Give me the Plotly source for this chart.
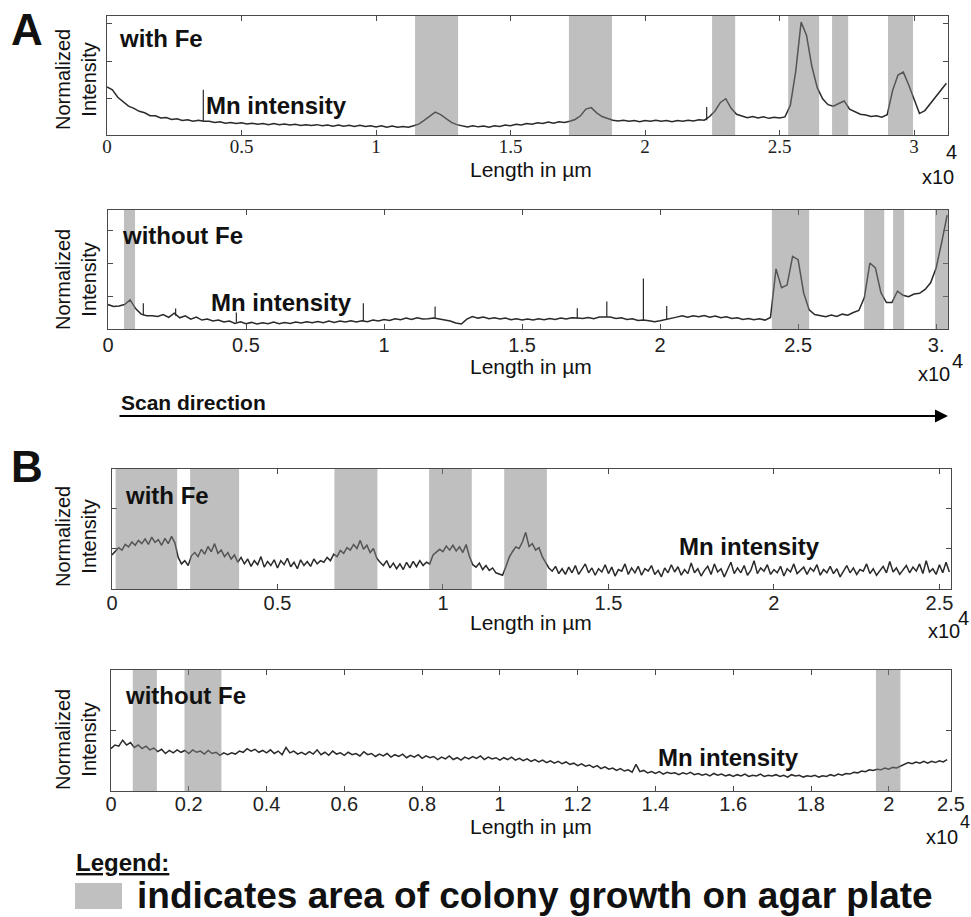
import numpy as np
import plotly.graph_objects as go

W, H = 971, 917

# ---------------- data ----------------
# Panel A, with Fe : Mn intensity sampled every 200 um
A_TOP_STEP = 200
A_TOP_MN = [
    1.30, 1.22, 1.02, 0.90, 0.78, 0.72, 0.64, 0.60, 0.52, 0.52,
    0.46, 0.47, 0.42, 0.44, 0.39, 0.41, 0.37, 0.40, 0.37, 0.37,
    0.34, 0.36, 0.32, 0.34, 0.31, 0.33, 0.30, 0.32, 0.29, 0.31,
    0.28, 0.31, 0.28, 0.30, 0.27, 0.29, 0.26, 0.28, 0.26, 0.28,
    0.25, 0.27, 0.24, 0.27, 0.24, 0.26, 0.23, 0.26, 0.23, 0.25,
    0.22, 0.25, 0.21, 0.24, 0.21, 0.23, 0.21, 0.25, 0.30, 0.40,
    0.50, 0.62, 0.55, 0.45, 0.34, 0.28, 0.25, 0.22, 0.25, 0.22,
    0.24, 0.21, 0.25, 0.23, 0.27, 0.25, 0.29, 0.27, 0.31, 0.29,
    0.33, 0.31, 0.35, 0.32, 0.36, 0.34, 0.37, 0.42, 0.52, 0.70,
    0.74, 0.60, 0.50, 0.44, 0.40, 0.38, 0.40, 0.37, 0.39, 0.36,
    0.39, 0.37, 0.40, 0.37, 0.39, 0.36, 0.39, 0.37, 0.40, 0.38,
    0.41, 0.40, 0.50, 0.65, 0.88, 0.98, 0.72, 0.56, 0.52, 0.47,
    0.50, 0.46, 0.49, 0.45, 0.48, 0.46, 0.49, 0.80, 1.72, 3.05,
    2.70, 1.85, 1.28, 0.98, 0.82, 0.78, 0.85, 0.92, 0.70, 0.62,
    0.56, 0.54, 0.50, 0.52, 0.48, 0.55, 1.20, 1.62, 1.70, 1.35,
    0.98, 0.58, 0.66, 0.84, 1.02, 1.22, 1.40,
]
# narrow single-sample spikes: (position um, base, top)
A_TOP_SPIKES = [(3580, 0.38, 1.22), (22290, 0.40, 0.76)]
A_TOP_BANDS = [(11450, 13050), (17170, 18770), (22490, 23350),
               (25320, 26470), (26950, 27550), (29030, 29960)]

# Panel A, without Fe : sampled every 200 um
A_BOT_STEP = 200
A_BOT_MN = [
    0.74, 0.68, 0.70, 0.74, 0.88, 0.62, 0.45, 0.40, 0.40, 0.38,
    0.44, 0.35, 0.48, 0.34, 0.40, 0.30, 0.36, 0.27, 0.30, 0.24,
    0.27, 0.21, 0.24, 0.17, 0.22, 0.16, 0.20, 0.15, 0.19, 0.16,
    0.21, 0.16, 0.20, 0.17, 0.21, 0.18, 0.22, 0.19, 0.23, 0.19,
    0.24, 0.20, 0.24, 0.21, 0.25, 0.21, 0.25, 0.22, 0.27, 0.24,
    0.29, 0.26, 0.31, 0.28, 0.33, 0.29, 0.34, 0.30, 0.31, 0.33,
    0.30, 0.28, 0.24, 0.18, 0.15, 0.30, 0.38, 0.33, 0.36, 0.31,
    0.34, 0.30, 0.33, 0.28, 0.31, 0.27, 0.30, 0.27, 0.31, 0.28,
    0.32, 0.29, 0.33, 0.30, 0.34, 0.33, 0.32, 0.35, 0.31, 0.36,
    0.37, 0.36, 0.32, 0.34, 0.29, 0.31, 0.26, 0.27, 0.25, 0.22,
    0.25, 0.28, 0.32, 0.36, 0.40, 0.36, 0.40, 0.37, 0.41, 0.36,
    0.39, 0.34, 0.37, 0.32, 0.34, 0.29, 0.32, 0.28, 0.31, 0.27,
    0.35, 1.82, 1.25, 1.33, 2.20, 2.10, 1.10, 0.58, 0.44, 0.40,
    0.37, 0.42, 0.38, 0.45, 0.42, 0.50, 0.56, 0.95, 2.00, 1.85,
    1.10, 0.80, 0.80, 1.15, 1.02, 0.98, 1.06, 1.08, 1.20, 1.40,
    1.85, 2.62, 3.45,
]
A_BOT_SPIKES = [(1280, 0.42, 0.78), (2450, 0.40, 0.62), (4650, 0.20, 0.50),
                (9250, 0.23, 0.78), (11850, 0.31, 0.68), (17000, 0.32, 0.63),
                (18070, 0.36, 0.83), (19395, 0.27, 1.53), (20240, 0.28, 0.70)]
A_BOT_BANDS = [(580, 980), (24050, 25400), (27390, 28120),
               (28440, 28840), (29960, 30430)]

# Panel B, with Fe : sampled every 100 um
B_TOP_STEP = 100
B_TOP_MN = [
    0.84, 0.93, 1.02, 0.96, 1.10, 1.04, 1.16, 1.08, 1.20, 1.12,
    1.24, 1.10, 1.28, 1.15, 1.22, 1.08, 1.25, 1.12, 1.30, 1.14,
    0.78, 0.62, 0.70, 0.58, 0.82, 0.90, 0.80, 0.98, 0.86, 1.05,
    0.92, 1.12, 0.88, 0.96, 0.80, 0.90, 0.74, 0.84, 0.66, 0.78,
    0.62, 0.74, 0.56, 0.70, 0.60, 0.80, 0.54, 0.68, 0.58, 0.72,
    0.52, 0.70, 0.60, 0.76, 0.55, 0.66, 0.50, 0.72, 0.58, 0.68,
    0.56, 0.74, 0.62, 0.70, 0.66, 0.78, 0.70, 0.86, 0.80, 0.95,
    0.88, 1.02, 0.96, 1.10, 1.00, 1.20, 0.98, 1.08, 0.90, 1.00,
    0.76, 0.66, 0.58, 0.70, 0.52, 0.64, 0.50, 0.62, 0.48, 0.66,
    0.52, 0.68, 0.55, 0.70, 0.58, 0.66, 0.62, 0.84, 0.90, 0.98,
    0.92, 1.06, 0.96, 1.08, 0.94, 1.04, 0.90, 1.10, 0.80, 0.60,
    0.54, 0.64, 0.48, 0.58, 0.46, 0.52, 0.40, 0.36, 0.34, 0.55,
    0.78, 0.92, 1.04, 1.00, 1.16, 1.40, 1.05, 1.12, 0.96, 1.02,
    0.80, 0.66, 0.52, 0.44, 0.56, 0.38, 0.50, 0.36, 0.54, 0.40,
    0.58, 0.36, 0.48, 0.62, 0.40, 0.52, 0.34, 0.50, 0.42, 0.60,
    0.38, 0.54, 0.32, 0.48, 0.44, 0.62, 0.36, 0.52, 0.40, 0.56,
    0.34, 0.50, 0.44, 0.58, 0.36, 0.46, 0.30, 0.52, 0.40, 0.60,
    0.42, 0.55, 0.34, 0.48, 0.38, 0.64, 0.40, 0.50, 0.32, 0.46,
    0.56, 0.36, 0.62, 0.42, 0.50, 0.30, 0.48, 0.66, 0.38, 0.52,
    0.40, 0.58, 0.34, 0.46, 0.70, 0.38, 0.52, 0.44, 0.60, 0.36,
    0.48, 0.40, 0.56, 0.32, 0.50, 0.42, 0.62, 0.38, 0.46, 0.54,
    0.36, 0.52, 0.44, 0.60, 0.34, 0.48, 0.40, 0.56, 0.38, 0.50,
    0.30, 0.46, 0.58, 0.40, 0.52, 0.36, 0.48, 0.44, 0.62, 0.38,
    0.50, 0.34, 0.46, 0.56, 0.40, 0.68, 0.42, 0.52, 0.36, 0.48,
    0.58, 0.40, 0.54, 0.44, 0.62, 0.38, 0.70, 0.42, 0.50, 0.36,
    0.60, 0.40, 0.66, 0.42,
]
B_TOP_SPIKES = []
B_TOP_BANDS = [(110, 1970), (2360, 3840), (6720, 8020),
               (9580, 10870), (11850, 13140)]

# Panel B, without Fe : sampled every 100 um
B_BOT_STEP = 100
B_BOT_MN = [
    0.70, 0.76, 0.74, 0.84, 0.76, 0.80, 0.72, 0.76, 0.70, 0.74,
    0.68, 0.71, 0.65, 0.69, 0.62, 0.67, 0.63, 0.68, 0.64, 0.67,
    0.62, 0.68, 0.64, 0.66, 0.61, 0.67, 0.62, 0.64, 0.59, 0.63,
    0.60, 0.63, 0.61, 0.66, 0.64, 0.70, 0.66, 0.69, 0.64, 0.67,
    0.63, 0.68, 0.62, 0.66, 0.60, 0.72, 0.63, 0.66, 0.61, 0.64,
    0.60, 0.65, 0.61, 0.68, 0.60, 0.64, 0.59, 0.66, 0.61, 0.63,
    0.59, 0.64, 0.60, 0.62, 0.58, 0.65, 0.60, 0.62, 0.57, 0.61,
    0.58, 0.62, 0.56, 0.60, 0.57, 0.61, 0.55, 0.59, 0.56, 0.60,
    0.54, 0.58, 0.55, 0.57, 0.52, 0.56, 0.53, 0.58, 0.52, 0.55,
    0.51, 0.56, 0.53, 0.57, 0.54, 0.58, 0.52, 0.56, 0.53, 0.55,
    0.51, 0.55, 0.52, 0.56, 0.51, 0.54, 0.50, 0.53, 0.49, 0.52,
    0.48, 0.51, 0.47, 0.50, 0.46, 0.49, 0.45, 0.48, 0.44, 0.46,
    0.42, 0.45, 0.41, 0.43, 0.39, 0.42, 0.37, 0.40, 0.36, 0.38,
    0.34, 0.37, 0.33, 0.35, 0.31, 0.44, 0.32, 0.34, 0.30, 0.32,
    0.29, 0.32, 0.28, 0.31, 0.29, 0.30, 0.27, 0.30, 0.28, 0.31,
    0.27, 0.29, 0.26, 0.28, 0.25, 0.29, 0.26, 0.28, 0.25, 0.27,
    0.24, 0.27, 0.25, 0.28, 0.24, 0.26, 0.25, 0.28, 0.24, 0.26,
    0.25, 0.27, 0.24, 0.26, 0.23, 0.27, 0.25, 0.26, 0.23, 0.25,
    0.24, 0.26, 0.23, 0.25, 0.24, 0.27, 0.25, 0.28, 0.26, 0.29,
    0.28, 0.31, 0.30, 0.33, 0.32, 0.35, 0.34, 0.36, 0.35, 0.38,
    0.36, 0.39, 0.38, 0.41, 0.44, 0.47, 0.45, 0.48, 0.46, 0.49,
    0.46, 0.49, 0.47, 0.50, 0.48, 0.52,
]
B_BOT_SPIKES = []
B_BOT_BANDS = [(560, 1180), (1890, 2840), (19670, 20300)]

# axis extents and tick labels
A_TOP_X_END, A_BOT_X_END, B_TOP_X_END, B_BOT_X_END = 31260, 30430, 25350, 21600
A_TICKVALS = [0, 5000, 10000, 15000, 20000, 25000, 30000]
A_TOP_TICKTEXT = ["0", "0.5", "1", "1.5", "2", "2.5", "3"]
A_BOT_TICKTEXT = ["0", "0.5", "1", "1.5", "2", "2.5", "3."]
B_TOP_TICKVALS = [0, 5000, 10000, 15000, 20000, 25000]
B_TOP_TICKTEXT = ["0", "0.5", "1", "1.5", "2", "2.5"]
B_BOT_TICKVALS = [0, 2000, 4000, 6000, 8000, 10000, 12000, 14000, 16000,
                  18000, 20000, B_BOT_X_END]
B_BOT_TICKTEXT = ["0", "0.2", "0.4", "0.6", "0.8", "1", "1.2", "1.4", "1.6",
                  "1.8", "2", "2.5"]

# ---------------- figure ----------------
SANS = "Liberation Sans, Arial, sans-serif"
SERIF = "Liberation Serif, Times New Roman, serif"
AXC = "#4a4a4a"
LINEC = "#2a2a2a"

panels = [
    dict(mn=A_TOP_MN, step=A_TOP_STEP, spikes=A_TOP_SPIKES, bands=A_TOP_BANDS,
         box=(107, 948, 16, 135), xend=A_TOP_X_END, yend=3.216, yticks=[1, 2, 3],
         tv=A_TICKVALS, tt=A_TOP_TICKTEXT, tf=SERIF, tfs=19, so=-6),
    dict(mn=A_BOT_MN, step=A_BOT_STEP, spikes=A_BOT_SPIKES, bands=A_BOT_BANDS,
         box=(108, 948, 210, 329), xend=A_BOT_X_END, yend=3.606, yticks=[1, 2, 3],
         tv=A_TICKVALS, tt=A_BOT_TICKTEXT, tf=SANS, tfs=20, so=-2),
    dict(mn=B_TOP_MN, step=B_TOP_STEP, spikes=B_TOP_SPIKES, bands=B_TOP_BANDS,
         box=(112, 951, 469, 589), xend=B_TOP_X_END, yend=2.963, yticks=[1, 2],
         tv=B_TOP_TICKVALS, tt=B_TOP_TICKTEXT, tf=SANS, tfs=20, so=-4),
    dict(mn=B_BOT_MN, step=B_BOT_STEP, spikes=B_BOT_SPIKES, bands=B_BOT_BANDS,
         box=(111, 951, 670, 791), xend=B_BOT_X_END, yend=2.0, yticks=[0, 1, 2],
         tv=B_BOT_TICKVALS, tt=B_BOT_TICKTEXT, tf=SANS, tfs=20, so=-5),
]

fig = go.Figure()
layout = {}
shapes = []
for i, p in enumerate(panels, start=1):
    xs = np.arange(len(p["mn"])) * p["step"]
    sfx = "" if i == 1 else str(i)
    fig.add_trace(go.Scatter(x=xs, y=p["mn"], mode="lines",
                             line=dict(color=LINEC, width=1.5),
                             xaxis="x" + sfx, yaxis="y" + sfx,
                             showlegend=False, hoverinfo="skip"))
    if p["spikes"]:
        sx, sy = [], []
        for pos, base, top in p["spikes"]:
            sx += [pos, pos, None]
            sy += [base, top, None]
        fig.add_trace(go.Scatter(x=sx, y=sy, mode="lines",
                                 line=dict(color=LINEC, width=1.2),
                                 xaxis="x" + sfx, yaxis="y" + sfx,
                                 showlegend=False, hoverinfo="skip"))
    x0, x1, y0, y1 = p["box"]
    layout["xaxis" + sfx] = dict(
        domain=[x0 / W, x1 / W], range=[0, p["xend"]], anchor="y" + sfx,
        showline=True, linecolor=AXC, linewidth=1, mirror="ticks",
        ticks="inside", ticklen=5, tickcolor=AXC,
        tickvals=p["tv"], ticktext=p["tt"], ticklabelstandoff=p["so"],
        tickfont=dict(family=p["tf"], size=p["tfs"], color="#222"),
        showgrid=False, zeroline=False, fixedrange=True, automargin=False)
    layout["yaxis" + sfx] = dict(
        domain=[1 - y1 / H, 1 - y0 / H], range=[0, p["yend"]], anchor="x" + sfx,
        showline=True, linecolor=AXC, linewidth=1, mirror="ticks",
        ticks="inside", ticklen=5, tickcolor=AXC, tickvals=p["yticks"],
        showticklabels=False, showgrid=False, zeroline=False, fixedrange=True,
        automargin=False)
    for b0, b1 in p["bands"]:
        shapes.append(dict(type="rect", xref="x" + sfx, yref="y" + sfx + " domain",
                           x0=b0, x1=b1, y0=0, y1=1, layer="above",
                           fillcolor="rgba(128,128,128,0.5)", line=dict(width=0)))

# legend swatch
shapes.append(dict(type="rect", xref="paper", yref="paper",
                   x0=75 / W, x1=122 / W, y0=1 - 909 / H, y1=1 - 883 / H,
                   fillcolor="#c0c0c0", line=dict(width=0)))

ann = []


def label(text, px, py, size, bold=False, xanchor="left", family=SANS, angle=0, **kw):
    ann.append(dict(text=("<b>%s</b>" % text) if bold else text,
                    x=px / W, y=1 - py / H, xref="paper", yref="paper",
                    xanchor=xanchor, yanchor="middle", showarrow=False,
                    textangle=angle,
                    font=dict(family=family, size=size, color="#111", **kw)))


label("A", 9, 29, 44, bold=True)
label("B", 9, 466, 44, bold=True)

label("with Fe", 117, 38, 24, bold=True)
label("Mn intensity", 204, 106, 24, bold=True)
label("without Fe", 120, 235, 24, bold=True)
label("Mn intensity", 209, 302, 24, bold=True)
label("with Fe", 123, 495, 24, bold=True)
label("Mn intensity", 677, 546, 24, bold=True)
label("without Fe", 123, 695, 24, bold=True)
label("Mn intensity", 656, 757, 24, bold=True)

for cy in (80, 280, 537, 740):
    label("Normalized<br>Intensity", 76, cy, 20, xanchor="center", angle=-90)

for cy in (169, 367, 622, 826):
    label("Length in µm", 531, cy, 21, xanchor="center")

for (cx, cy, sx, sy, fs) in [(938, 177, 951, 152, 20), (934, 374, 957, 361, 20),
                             (944, 631, 963, 618, 20), (942, 837, 965, 822, 18)]:
    label("x10", cx, cy, 20, xanchor="center")
    label("4", sx, sy, fs, xanchor="center")

label("Scan direction", 119, 402, 21, bold=True)
ann.append(dict(text="", x=948 / W, y=1 - 416 / H, xref="paper", yref="paper",
                ax=-830, ay=0, showarrow=True, arrowhead=2, arrowsize=1.3,
                arrowwidth=2, arrowcolor="#000"))

label("Legend:", 74, 862, 24, bold=True, lineposition="under")
label("indicates area of colony growth on agar plate", 135, 895, 37, bold=True)

fig.update_layout(
    template="none",
    width=W, height=H, autosize=False,
    margin=dict(l=0, r=0, t=0, b=0, autoexpand=False),
    paper_bgcolor="white", plot_bgcolor="white",
    shapes=shapes, annotations=ann, showlegend=False,
    **layout)

fig.write_html("out.html", config={"displayModeBar": False},
               post_script="document.body.style.margin='0';"
                           "document.body.style.overflow='hidden';")
